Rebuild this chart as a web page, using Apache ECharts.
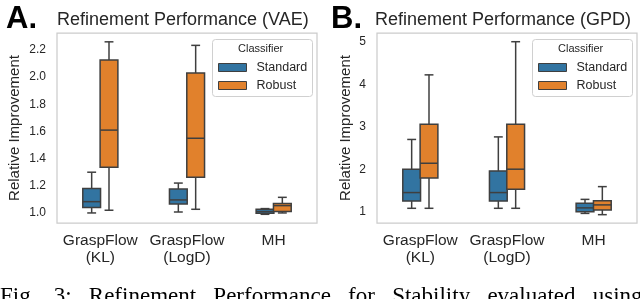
<!DOCTYPE html>
<html>
<head>
<meta charset="utf-8">
<script src="https://cdn.jsdelivr.net/npm/echarts@6/dist/echarts.min.js"></script>
<style>
html,body{margin:0;padding:0;background:#fff;}
#chart{width:640px;height:299px;}
</style>
</head>
<body>
<div id="chart"></div>
<script>
// ---- data ----
const categories = ['GraspFlow\n(KL)', 'GraspFlow\n(LogD)', 'MH'];
const hueNames = ['Standard', 'Robust'];
// [min, q1, median, q3, max]
const vaeStandard = [[1.00, 1.04, 1.083, 1.18, 1.30], [1.007, 1.066, 1.096, 1.176, 1.22], [0.99, 0.998, 1.01, 1.027, 1.032]];
const vaeRobust   = [[1.02, 1.336, 1.61, 2.127, 2.26], [1.027, 1.262, 1.55, 2.03, 2.234], [1.0, 1.01, 1.054, 1.07, 1.115]];
const gpdStandard = [[1.08, 1.25, 1.45, 2.0, 2.70], [1.08, 1.25, 1.45, 1.96, 2.76], [0.96, 1.0, 1.09, 1.2, 1.29]];
const gpdRobust   = [[1.08, 1.79, 2.14, 3.06, 4.22], [1.08, 1.53, 2.0, 3.06, 5.0], [0.93, 1.04, 1.16, 1.26, 1.59]];
const vaeTicks = [1.0, 1.2, 1.4, 1.6, 1.8, 2.0, 2.2];
const gpdTicks = [1, 2, 3, 4, 5];
const titleA = 'Refinement Performance (VAE)';
const titleB = 'Refinement Performance (GPD)';
const captionWords = ['Fig.', '3:', 'Refinement', 'Performance', 'for', 'Stability', 'evaluated', 'using'];

const COLORS = ['#3274a1', '#e1812c'];
const EDGE = '#3f3f3f';
const TXT = '#262626';
const FONT = '"Liberation Sans", Arial, sans-serif';

function toData(arr) { return arr.map((d, i) => [i].concat(d)); }

function makeRender(offsetFrac, widthFrac, color) {
  return function (params, api) {
    const cat = api.value(0);
    const band = api.size([1, 0])[0];
    const cx = api.coord([cat, 0])[0] + offsetFrac * band;
    const w = band * widthFrac;
    const y = [1, 2, 3, 4, 5].map(k => api.coord([cat, api.value(k)])[1]);
    const ls = { stroke: EDGE, lineWidth: 1.5 };
    const cap = w / 4;
    return {
      type: 'group',
      children: [
        { type: 'line', shape: { x1: cx, y1: y[0], x2: cx, y2: y[1] }, style: ls },
        { type: 'line', shape: { x1: cx, y1: y[3], x2: cx, y2: y[4] }, style: ls },
        { type: 'line', shape: { x1: cx - cap, y1: y[0], x2: cx + cap, y2: y[0] }, style: ls },
        { type: 'line', shape: { x1: cx - cap, y1: y[4], x2: cx + cap, y2: y[4] }, style: ls },
        { type: 'rect', shape: { x: cx - w / 2, y: y[3], width: w, height: y[1] - y[3] },
          style: { fill: color, stroke: EDGE, lineWidth: 1.5 } },
        { type: 'line', shape: { x1: cx - w / 2, y1: y[2], x2: cx + w / 2, y2: y[2] }, style: ls }
      ]
    };
  };
}

function boxSeries(name, data, idx, hue) {
  const off = hue === 0 ? -0.1 : 0.1;
  return {
    type: 'custom', name: name, xAxisIndex: idx, yAxisIndex: idx,
    itemStyle: { color: COLORS[hue], borderColor: EDGE },
    renderItem: makeRender(off, 0.205, COLORS[hue]),
    encode: { x: 0, y: [1, 2, 3, 4, 5] },
    data: toData(data), clip: false, silent: true
  };
}

const grids = [
  { left: 57, top: 33, width: 260, height: 190 },
  { left: 377, top: 33, width: 260, height: 190 }
];

function xAxis(idx) {
  return {
    type: 'category', gridIndex: idx, data: categories,
    axisLine: { show: false }, axisTick: { show: false },
    axisLabel: { color: TXT, fontSize: 15.5, fontFamily: FONT, lineHeight: 17, margin: 9, interval: 0 },
    splitLine: { show: false }
  };
}

function yAxis(idx, min, max, ticks, fmt, gap) {
  return {
    type: 'value', gridIndex: idx, min: min, max: max,
    name: 'Relative Improvement', nameLocation: 'middle', nameGap: gap,
    nameTextStyle: { color: TXT, fontSize: 15, fontFamily: FONT },
    axisLine: { show: false },
    axisTick: { show: false, customValues: ticks },
    axisLabel: { color: TXT, fontSize: 12, fontFamily: FONT, margin: 11, customValues: ticks,
                 formatter: v => fmt(v) },
    splitLine: { show: false }
  };
}

const legendFrame = (x) => ({
  type: 'rect', left: x, top: 39, shape: { width: 100, height: 57, r: 3 },
  style: { fill: 'rgba(255,255,255,0.8)', stroke: '#d0d0d0', lineWidth: 1 }, z: 50
});
const legendTitle = (x) => ({
  type: 'text', left: x, top: 43, z: 51,
  style: { text: 'Classifier', fill: TXT, font: '11px ' + FONT }
});

function legend(x) {
  return {
    orient: 'vertical', left: x, top: 61, padding: 0, itemWidth: 28, itemHeight: 8, itemGap: 5,
    icon: 'rect', z: 52,
    data: hueNames.map((n, i) => ({ name: n, itemStyle: { color: COLORS[i], borderColor: EDGE, borderWidth: 1 } })),
    textStyle: { color: TXT, fontSize: 12.5, fontFamily: FONT, padding: [0, 0, 0, 5] },
    selectedMode: false
  };
}

const chart = echarts.init(document.getElementById('chart'), null, { renderer: 'canvas' });
chart.setOption({
  animation: false,
  backgroundColor: '#fff',
  grid: grids.map(g => Object.assign({ show: true, borderColor: '#cccccc', borderWidth: 1.25, backgroundColor: 'transparent' }, g)),
  xAxis: [xAxis(0), xAxis(1)],
  yAxis: [
    yAxis(0, 0.926, 2.325, vaeTicks, v => v.toFixed(1), 35),
    yAxis(1, 0.734, 5.205, gpdTicks, v => String(Math.round(v)), 24)
  ],
  legend: [legend(218), legend(538)],
  title: [
    { text: 'A.', left: 6, top: 4, padding: 0, textStyle: { fontSize: 31, fontWeight: 'bold', color: '#000', fontFamily: FONT } },
    { text: titleA, left: 57, top: 11, padding: 0, textStyle: { fontSize: 18, fontWeight: 'normal', color: TXT, fontFamily: FONT } },
    { text: 'B.', left: 331, top: 4, padding: 0, textStyle: { fontSize: 31, fontWeight: 'bold', color: '#000', fontFamily: FONT } },
    { text: titleB, left: 375, top: 11, padding: 0, textStyle: { fontSize: 18, fontWeight: 'normal', color: TXT, fontFamily: FONT } }
  ],
  graphic: [
    legendFrame(212), legendTitle(238),
    legendFrame(532), legendTitle(558),
    { type: 'text', left: 0, top: 285, z: 10,
      style: { text: captionWords.join('   '), fill: '#000', font: '23px "Liberation Serif", "Times New Roman", serif' } }
  ],
  series: [
    boxSeries('Standard', vaeStandard, 0, 0),
    boxSeries('Robust', vaeRobust, 0, 1),
    boxSeries('Standard', gpdStandard, 1, 0),
    boxSeries('Robust', gpdRobust, 1, 1)
  ]
});
</script>
</body>
</html>
